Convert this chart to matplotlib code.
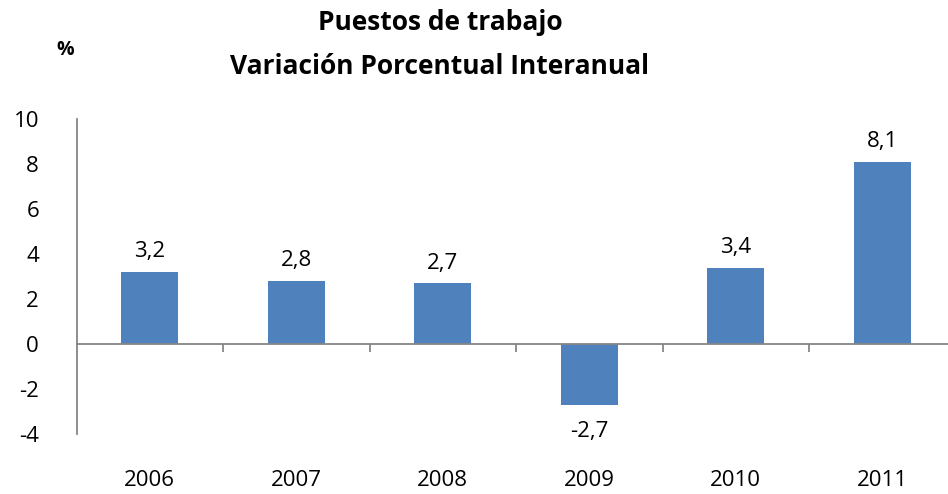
import numpy as np
import matplotlib
matplotlib.use("Agg")
import matplotlib.pyplot as plt
import matplotlib.transforms as mtransforms

# datos
years = ["2006", "2007", "2008", "2009", "2010", "2011"]
values = [3.2, 2.8, 2.7, -2.7, 3.4, 8.1]
labels = ["3,2", "2,8", "2,7", "-2,7", "3,4", "8,1"]
yticks = [-4, -2, 0, 2, 4, 6, 8, 10]

plt.rcParams['font.family'] = ['Open Sans', 'DejaVu Sans']

bar_color = "#4F81BD"
axis_color = "#868686"
fs = 16

fig = plt.figure(figsize=(9.48, 4.94), dpi=100)
ax = fig.add_axes([76.5 / 948, 1 - 434 / 494, 879 / 948, 315 / 494])

x = np.arange(len(years))
ax.bar(x, values, width=0.39, color=bar_color, zorder=2)

ax.set_xlim(-0.5, len(years) - 0.5)
ax.set_ylim(-4, 10)
ax.set_yticks(yticks)
ax.set_yticklabels([str(v) for v in yticks], fontsize=fs)
ax.tick_params(axis='y', length=0, pad=27)

# eje x en el cero, ticks en los limites de categoria
ax.spines['bottom'].set_position(('data', 0))
ax.spines['top'].set_visible(False)
ax.spines['right'].set_visible(False)
for s in ['left', 'bottom']:
    ax.spines[s].set_color(axis_color)
    ax.spines[s].set_linewidth(1.3)
ax.set_xticks(np.arange(0.5, len(years) - 0.5, 1))
ax.set_xticklabels([])
ax.tick_params(axis='x', direction='out', length=6, color=axis_color, width=1.3)

# etiquetas de los años bajo el grafico
trans = mtransforms.blended_transform_factory(ax.transData, ax.transAxes)
for xi, yr in zip(x, years):
    ax.text(xi, -46 / 315, yr, transform=trans, ha='center', va='center', fontsize=fs)

# valores sobre las barras
for xi, v, lab in zip(x, values, labels):
    if v >= 0:
        ax.annotate(lab, (xi, v), xytext=(0, 7), textcoords='offset points',
                    ha='center', va='bottom', fontsize=fs)
    else:
        ax.annotate(lab, (xi, v), xytext=(0, -12), textcoords='offset points',
                    ha='center', va='top', fontsize=fs)

fig.text(440 / 948, 1 - 22 / 494, "Puestos de trabajo", ha='center', va='center',
         fontsize=19, fontweight='bold')
fig.text(440 / 948, 1 - 66 / 494, "Variación Porcentual Interanual", ha='center', va='center',
         fontsize=19, fontweight='bold')
fig.text(65 / 948, 1 - 50 / 494, "%", ha='center', va='center', fontsize=14, fontweight='bold')

fig.savefig("out.png", dpi=100)
